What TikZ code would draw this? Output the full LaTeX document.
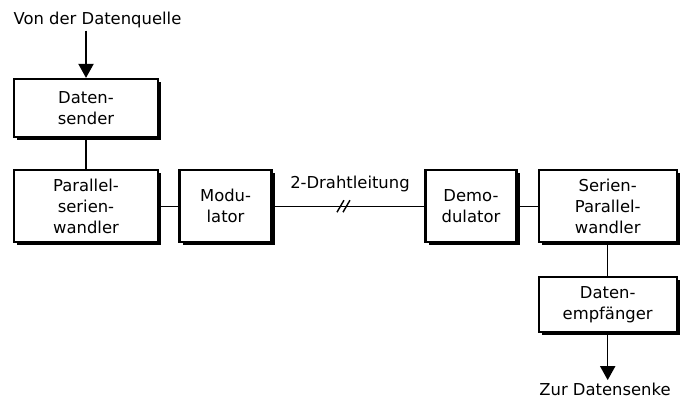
\documentclass[tikz,border=0pt]{standalone}
\usepackage{fontspec}
\setmainfont{DejaVu Sans}
\usetikzlibrary{arrows.meta, positioning, shadows, calc}
\tikzset{
  % Blockschaltbild styles
  unit/.style={rectangle, draw=black, line width=1.9pt, fill=white, minimum width=#1, minimum height=2.16cm, inner sep=2pt, align=center, font=\fontsize{14}{18}\selectfont, drop shadow={shadow xshift=2.6pt, shadow yshift=-2.6pt, fill=black, opacity=1}},
  unit/.default={4.32cm},
  wire/.style={line width=1.2pt},
  arrow/.style={-{Triangle[width=13pt, length=12pt]}, line width=1.2pt},
  caption/.style={font=\fontsize{14}{18}\selectfont, inner sep=2pt},
}
\begin{document}
\begin{tikzpicture}[x=0.03cm, y=0.03cm]
    \useasboundingbox (0,0) rectangle (681,399);

    % Sendeseite
    \node[unit, minimum height=1.74cm] (dsend) at (86,291) {Daten-\\sender};
    \node[unit, below=0.93cm of dsend] (pswand) {Parallel-\\serien-\\wandler};
    \node[unit=2.76cm, right=0.58cm of pswand] (mod) {Modu-\\lator};

    % Empfangsseite
    \node[unit=2.73cm, right=4.55cm of mod] (demod) {Demo-\\dulator};
    \node[unit=4.14cm, right=0.6cm of demod] (spwand) {Serien-\\Parallel-\\wandler};
    \node[unit=4.14cm, minimum height=1.65cm, below=0.98cm of spwand] (dempf) {Daten-\\empfänger};

    % Verbindungen
    \draw[wire] (dsend) -- (pswand);
    \draw[wire] (pswand) -- (mod);
    \draw[wire] (mod) -- coordinate[pos=0.47] (cut) (demod);
    \draw[wire] (demod) -- (spwand);
    \draw[wire] (spwand) -- (dempf);
    \node[caption, above=0.36cm of cut, xshift=0.18cm] (line) {2-Drahtleitung};
    \draw[wire] ($(cut)+(-7,-6)$) -- ($(cut)+(0,6)$);
    \draw[wire] ($(cut)+(-1,-6)$) -- ($(cut)+(6,6)$);

    % Quelle und Senke
    \node[caption, anchor=west] (src) at (11,379) {Von der Datenquelle};
    \node[caption] (sink) at (605,10) {Zur Datensenke};
    \draw[arrow] (src.south -| dsend.north) -- (dsend.north);
    \draw[arrow] (dempf.south) -- (dempf.south |- sink.north);
\end{tikzpicture}
\end{document}
